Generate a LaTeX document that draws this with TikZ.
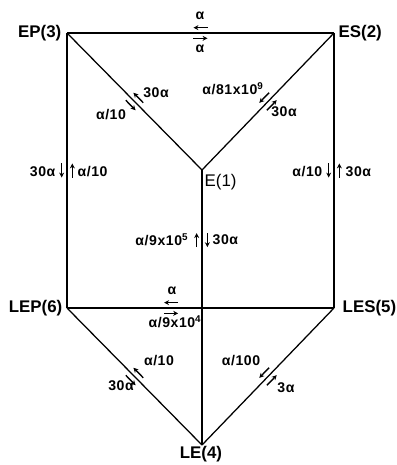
\documentclass[tikz,border=0pt]{standalone}
\usepackage{fontspec}
\setmainfont{Liberation Sans}
\usetikzlibrary{arrows.meta}

\begin{document}
\begin{tikzpicture}[x=0.025cm, y=-0.025cm,
        state/.style={font=\fontsize{12}{14}\selectfont\bfseries, inner sep=1pt},
        rate/.style={font=\fontsize{10}{12}\selectfont\bfseries\addfontfeatures{LetterSpace=4}, inner sep=1pt},
        edge/.style={line width=0.9pt},
        flux/.style={line width=1pt, -{Stealth[length=3.5pt, width=3.5pt]}},
        pics/rates/.style={code={
            \draw[flux] (5pt,3.8pt) -- (-5pt,3.8pt);
            \draw[flux] (-5pt,-3.8pt) -- (5pt,-3.8pt);}},
        pics/ratesrev/.style={code={
            \draw[flux] (-5pt,3.8pt) -- (5pt,3.8pt);
            \draw[flux] (5pt,-3.8pt) -- (-5pt,-3.8pt);}}
    ]
        \useasboundingbox (0,0) rectangle (396,465);

        % corners of the scheme
        \coordinate (EP) at (67,33);
        \coordinate (ES) at (334,33);
        \coordinate (E1) at (202,170);
        \coordinate (LEP) at (67,308);
        \coordinate (LES) at (334,308);
        \coordinate (LE) at (202,445);

        \node[state, anchor=east] (nEP) at (63,33) {EP(3)};
        \node[state, anchor=west] (nES) at (337,33) {ES(2)};
        \node[state, anchor=north west, font=\fontsize{12}{14}\selectfont] (nE1) at (203,173) {E(1)};
        \node[state, anchor=east] (nLEP) at (64,308) {LEP(6)};
        \node[state, anchor=west] (nLES) at (341,308) {LES(5)};
        \node[state, anchor=north] (nLE) at (201,445) {LE(4)};

        % edges with their pairs of rate arrows
        \draw[edge] (EP) -- pic[pos=0.5, sloped]{rates} (ES);
        \draw[edge] (EP) -- pic[pos=0.5, sloped]{rates} (LEP);
        \draw[edge] (ES) -- pic[pos=0.5, sloped]{rates} (LES);
        \draw[edge] (EP) -- pic[pos=0.5, sloped]{rates} (E1);
        \draw[edge] (E1) -- pic[pos=0.5, sloped]{rates} (ES);
        \draw[edge] (E1) -- pic[pos=0.255, sloped]{ratesrev} (LE);
        \draw[edge] (LEP) -- pic[pos=0.39, sloped]{rates} (LES);
        \draw[edge] (LEP) -- pic[pos=0.5, sloped]{rates} (LE);
        \draw[edge] (LE) -- pic[pos=0.5, sloped]{rates} (LES);

        % rate labels
        \node[rate] (kEPES) at (200,16) {α};
        \node[rate] (kESEP) at (200,49) {α};
        \node[rate, anchor=east] (kEPLEP) at (57,172) {30α};
        \node[rate, anchor=west] (kLEPEP) at (76,172) {α/10};
        \node[rate, anchor=east] (kESLES) at (324,172) {α/10};
        \node[rate, anchor=west] (kLESES) at (344,172) {30α};
        \node[rate] (kEEP) at (156,93) {30α};
        \node[rate] (kEPE) at (111,115) {α/10};
        \node[rate] (kESE) at (233,89) {α/81x10\textsuperscript{9}};
        \node[rate] (kEES) at (284,112) {30α};
        \node[rate, anchor=east] (kLEE) at (190,240) {α/9x10\textsuperscript{5}};
        \node[rate, anchor=west] (kELE) at (211,240) {30α};
        \node[rate] (kLESLEP) at (172,291) {α};
        \node[rate] (kLEPLES) at (175,322) {α/9x10\textsuperscript{4}};
        \node[rate] (kLELEP) at (159,361) {α/10};
        \node[rate] (kLEPLE) at (121,386) {30α};
        \node[rate] (kLESLE) at (241,361) {α/100};
        \node[rate] (kLELES) at (286,388) {3α};
    \end{tikzpicture}
\end{document}
